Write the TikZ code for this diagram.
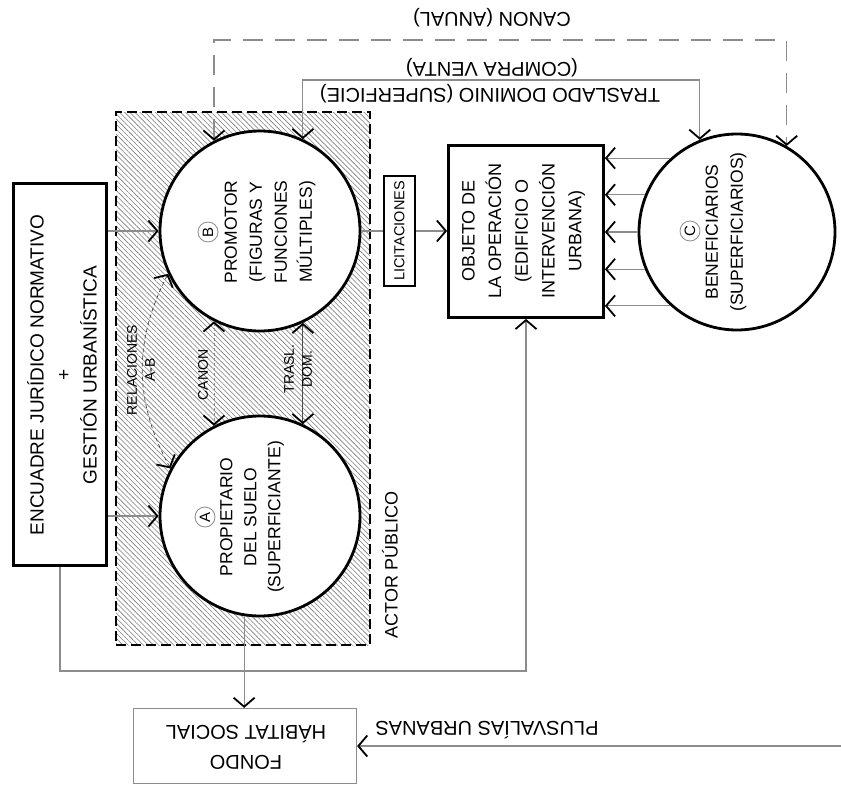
\documentclass[tikz,border=0pt]{standalone}
\usepackage{fontspec}
\setmainfont{Liberation Sans}
\usetikzlibrary{arrows.meta,patterns.meta}
\definecolor{lg}{RGB}{140,140,140}
\definecolor{hatchc}{RGB}{125,125,125}
\begin{document}
\begin{tikzpicture}[x=1pt,y=-1pt,
  vtip/.tip={Straight Barb[length=9pt,width=21pt,line width=1.8pt,color=black]},
  conn/.style={draw=lg,line width=1.2pt},
  actor/.style={circle,draw=black,line width=2.8pt,fill=white,minimum size=200pt,inner sep=0pt},
  thickbox/.style={draw=black,line width=2.8pt,fill=white,inner sep=0pt},
  rlbl/.style={rotate=90,align=center,inner sep=0pt,font=\fontsize{17.5}{25}\selectfont},
  small/.style={rotate=90,align=center,inner sep=0pt,font=\fontsize{14}{18}\selectfont},
  toplbl/.style={rotate=180,align=center,inner sep=0pt,font=\fontsize{20}{30}\selectfont},
  circlet/.style={circle,draw=lg,line width=0.8pt,rotate=90,inner sep=0pt,minimum size=20pt,font=\fontsize{15}{15}\selectfont}
]
\useasboundingbox (0,0) rectangle (841,792);

% actor publico hatched area
\node[draw=black,line width=2.8pt,dash pattern=on 10pt off 5pt,
      pattern={Lines[angle=-45,distance=3.6pt,line width=0.6pt]},pattern color=hatchc,
      minimum width=254pt,minimum height=533pt,inner sep=0pt] (act) at (243,378.5) {};

% main shapes
\node[actor] (B) at (260,231) {};
\node[actor] (A) at (260,516) {};
\node[actor,minimum size=196pt] (C) at (737,232) {};
\node[thickbox,minimum width=93pt,minimum height=382pt] (enc) at (60,374.5) {};
\node[thickbox,minimum width=155pt,minimum height=172pt] (obj) at (526,231.5) {};
\node[draw=lg,line width=1.2pt,fill=white,minimum width=223pt,minimum height=75pt] (fondo) at (245,746) {};

% top connectors
\draw[conn,dash pattern=on 20pt off 12pt,vtip-vtip] (B.117) -- (B.117 |- 0,40) -| (C.60);
\draw[conn,vtip-vtip] (B.65) -- (B.65 |- 0,80) -| (C.112);

% connectors between A and B
\draw[draw=lg,line width=0.7pt,dash pattern=on 3pt off 2pt,vtip-vtip] (B.243) -- (A.117);
\draw[draw=black!70,line width=0.9pt,vtip-vtip] (B.295) -- (A.65);
\draw[draw=black!75,line width=0.7pt,dash pattern=on 4pt off 3pt,vtip-vtip] (B.205) to[bend right=28] (A.152);

% encuadre to actors
\draw[conn,-vtip] (enc.east |- B) -- (B.west);
\draw[conn,-vtip] (enc.east |- A) -- (A.west);

% B to objeto via licitaciones
\draw[conn,-vtip] (B.east) -- (B.east -| obj.west);
\node[thickbox,line width=2.2pt,minimum width=31pt,minimum height=110pt] (lic) at (399.5,231) {};
\node[small,font=\fontsize{14.5}{18}\selectfont] (lict) at (lic.center) {LICITACIONES};

% beneficiarios to objeto
\foreach \a in {132,158,180,202,228}
  \draw[conn,-vtip] (C.\a) -- (C.\a -| obj.east);

% encuadre to objeto (bottom loop)
\coordinate (bl) at (enc.south |- 0,671);
\coordinate (br) at (obj.south |- 0,671);
\draw[conn,-vtip] (enc.south) -- (bl) -- (br) -- (obj.south);

% A to fondo
\draw[conn,-vtip] (A.261) -- (A.261 |- fondo.north);

% plusvalias
\coordinate (pv) at (841,746);
\draw[conn,-vtip] (pv) -- (fondo.east);

% texts
\node[rotate=90,align=center,inner sep=0pt,font=\fontsize{19}{26.5}\selectfont] (enct) at (62,375)
  {ENCUADRE JURÍDICO NORMATIVO\\+\\GESTIÓN URBANÍSTICA};

\node[circlet] (Bl) at (208,232) {B};
\node[rlbl] (Bt) at (270,232) {PROMOTOR\\(FIGURAS Y\\FUNCIONES\\MÚLTIPLES)};
\node[circlet] (Al) at (205,517) {A};
\node[rlbl,font=\fontsize{17.5}{24}\selectfont] (At) at (252,517) {PROPIETARIO\\DEL SUELO\\(SUPERFICIANTE)};
\node[circlet] (Cl) at (690,231) {C};
\node[rlbl] (Ct) at (726,232) {BENEFICIARIOS\\(SUPERFICIARIOS)};
\node[rlbl,font=\fontsize{18}{26.7}\selectfont] (objt) at (523.5,231) {OBJETO DE\\LA OPERACIÓN\\(EDIFICIO O\\INTERVENCIÓN\\URBANA)};

\node[small] (rel) at (141,370) {RELACIONES\\A-B};
\node[small] (can) at (203,375) {CANON};
\node[small] (tra) at (298,369) {TRASL.\\DOM.};
\node[rotate=90,inner sep=0pt,font=\fontsize{18}{18}\selectfont] (actt) at (390,565) {ACTOR PÚBLICO};

\node[toplbl] (cant) at (492,18) {CANON (ANUAL)};
\node[toplbl] (cvt) at (492,68) {(COMPRA VENTA)};
\node[toplbl] (tdt) at (490,94) {TRASLADO DOMINIO (SUPERFICIE)};
\node[toplbl] (fondt) at (246,747) {FONDO\\HÁBITAT SOCIAL};
\node[toplbl] (pvt) at (487,730) {PLUSVALÍAS URBANAS};
\end{tikzpicture}
\end{document}
